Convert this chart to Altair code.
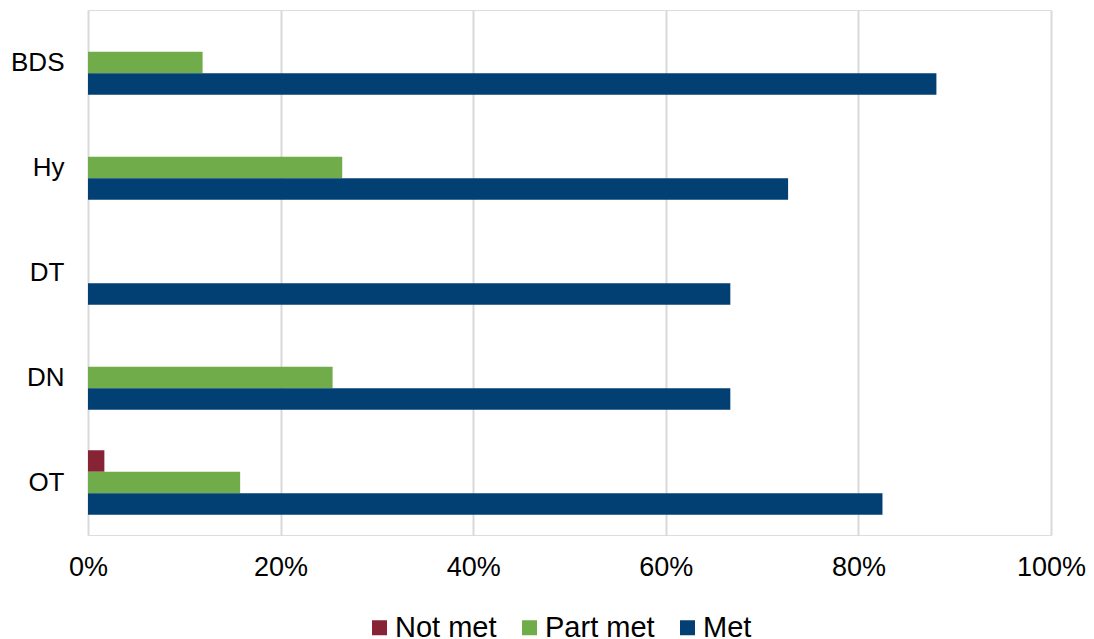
import altair as alt
import pandas as pd

# Share of standards by outcome for each area
categories = ["BDS", "Hy", "DT", "DN", "OT"]
statuses = ["Not met", "Part met", "Met"]
not_met = [0.0, 0.0, 0.0, 0.0, 1.7]
part_met = [11.9, 26.4, 0.0, 25.4, 15.8]
met = [88.1, 72.7, 66.7, 66.7, 82.5]
colors = ["#862334", "#71AC4A", "#023F73"]

rows = []
for i, cat in enumerate(categories):
    for status, values in zip(statuses, [not_met, part_met, met]):
        rows.append({"area": cat, "status": status, "share": values[i] / 100})
df = pd.DataFrame(rows)

FONT = "Liberation Sans"

chart = (
    alt.Chart(df)
    .mark_bar()
    .encode(
        x=alt.X(
            "share:Q",
            scale=alt.Scale(domain=[0, 1], nice=False),
            axis=alt.Axis(
                format=".0%",
                values=[0, 0.2, 0.4, 0.6, 0.8, 1.0],
                title=None,
                domain=False,
                ticks=False,
                grid=True,
                gridColor="#D9D9D9",
                gridWidth=2,
                labelFont=FONT,
                labelFontSize=27,
                labelColor="#000000",
                labelPadding=19,
                labelFlush=False,
            ),
        ),
        y=alt.Y(
            "area:N",
            sort=categories,
            scale=alt.Scale(paddingInner=0.386, paddingOuter=0.193),
            axis=alt.Axis(
                title=None,
                domain=False,
                ticks=False,
                labelFont=FONT,
                labelFontSize=26,
                labelColor="#000000",
                labelPadding=24,
            ),
        ),
        yOffset=alt.YOffset("status:N", sort=statuses),
        color=alt.Color(
            "status:N",
            sort=statuses,
            scale=alt.Scale(domain=statuses, range=colors),
            legend=alt.Legend(
                title=None,
                orient="none",
                direction="horizontal",
                legendX=277,
                legendY=603,
                symbolType="square",
                symbolSize=225,
                symbolStrokeWidth=0,
                symbolOpacity=1,
                labelFont=FONT,
                labelFontSize=29,
                labelColor="#000000",
                labelOffset=1,
                columnPadding=18,
            ),
        ),
    )
    .properties(
        width=963,
        height=525,
        autosize=alt.AutoSizeParams(type="none"),
        padding={"left": 88, "top": 10, "right": 43, "bottom": 104},
    )
    .configure_view(stroke=None)
    .configure(background="#FFFFFF")
)

chart.save("out.html", embed_options={"renderer": "svg", "actions": False})
